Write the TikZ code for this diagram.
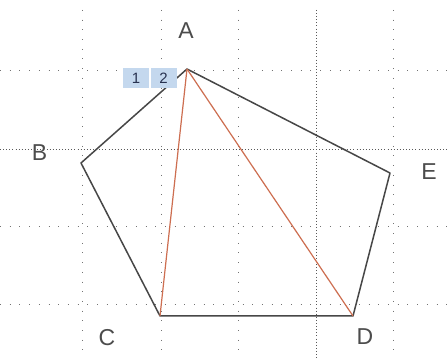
\documentclass[tikz,border=0pt]{standalone}
\usepackage{fontspec}
\setmainfont{Liberation Sans}
\begin{document}
\begin{tikzpicture}[x=1pt,y=-1pt,
  gridline/.style={line width=1pt,draw=black!55,dash pattern=on 1pt off 8.7pt},
  axisline/.style={line width=1pt,draw=black!65,dash pattern=on 1pt off 2.1pt},
  edge/.style={line width=1.5pt,draw=black!72},
  diag/.style={line width=1.2pt,draw={rgb,255:red,205;green,110;blue,80}},
  lbl/.style={font=\fontsize{23}{23}\selectfont,text=black!70,inner sep=0pt},
  cell/.style={fill={rgb,255:red,196;green,216;blue,238},minimum width=26pt,minimum height=20pt,inner sep=0pt,font=\fontsize{15}{15}\selectfont,text={rgb,255:red,40;green,50;blue,80}}]
\useasboundingbox (0,0) rectangle (448,358);
\fill[white] (0,0) rectangle (448,358);
% grid
\foreach \gx in {82,161,238,393} \draw[gridline] (\gx,10) -- (\gx,358);
\draw[axisline] (316,10) -- (316,358);
\foreach \gy in {71,227,305} \draw[gridline] (0,\gy) -- (448,\gy);
\draw[axisline] (0,150) -- (448,150);
% vertices
\coordinate (a) at (187,69);
\coordinate (b) at (81,163);
\coordinate (c) at (160,316);
\coordinate (d) at (353,316);
\coordinate (e) at (390,173);
% polygon
\draw[edge,line join=round] (a) -- (e) -- (d) -- (c) -- (b) -- cycle;
\draw[diag] (a) -- (c);
\draw[diag] (a) -- (d);
% cells
\node[cell] (c1) at (136,78) {1};
\node[cell] (c2) at (163.5,78) {2};
% labels
\node[lbl] (la) at (186,31) {A};
\node[lbl] (lb) at (39.5,152.5) {B};
\node[lbl] (lc) at (107,338) {C};
\node[lbl] (ld) at (365,337) {D};
\node[lbl] (le) at (429,172) {E};
\end{tikzpicture}
\end{document}
